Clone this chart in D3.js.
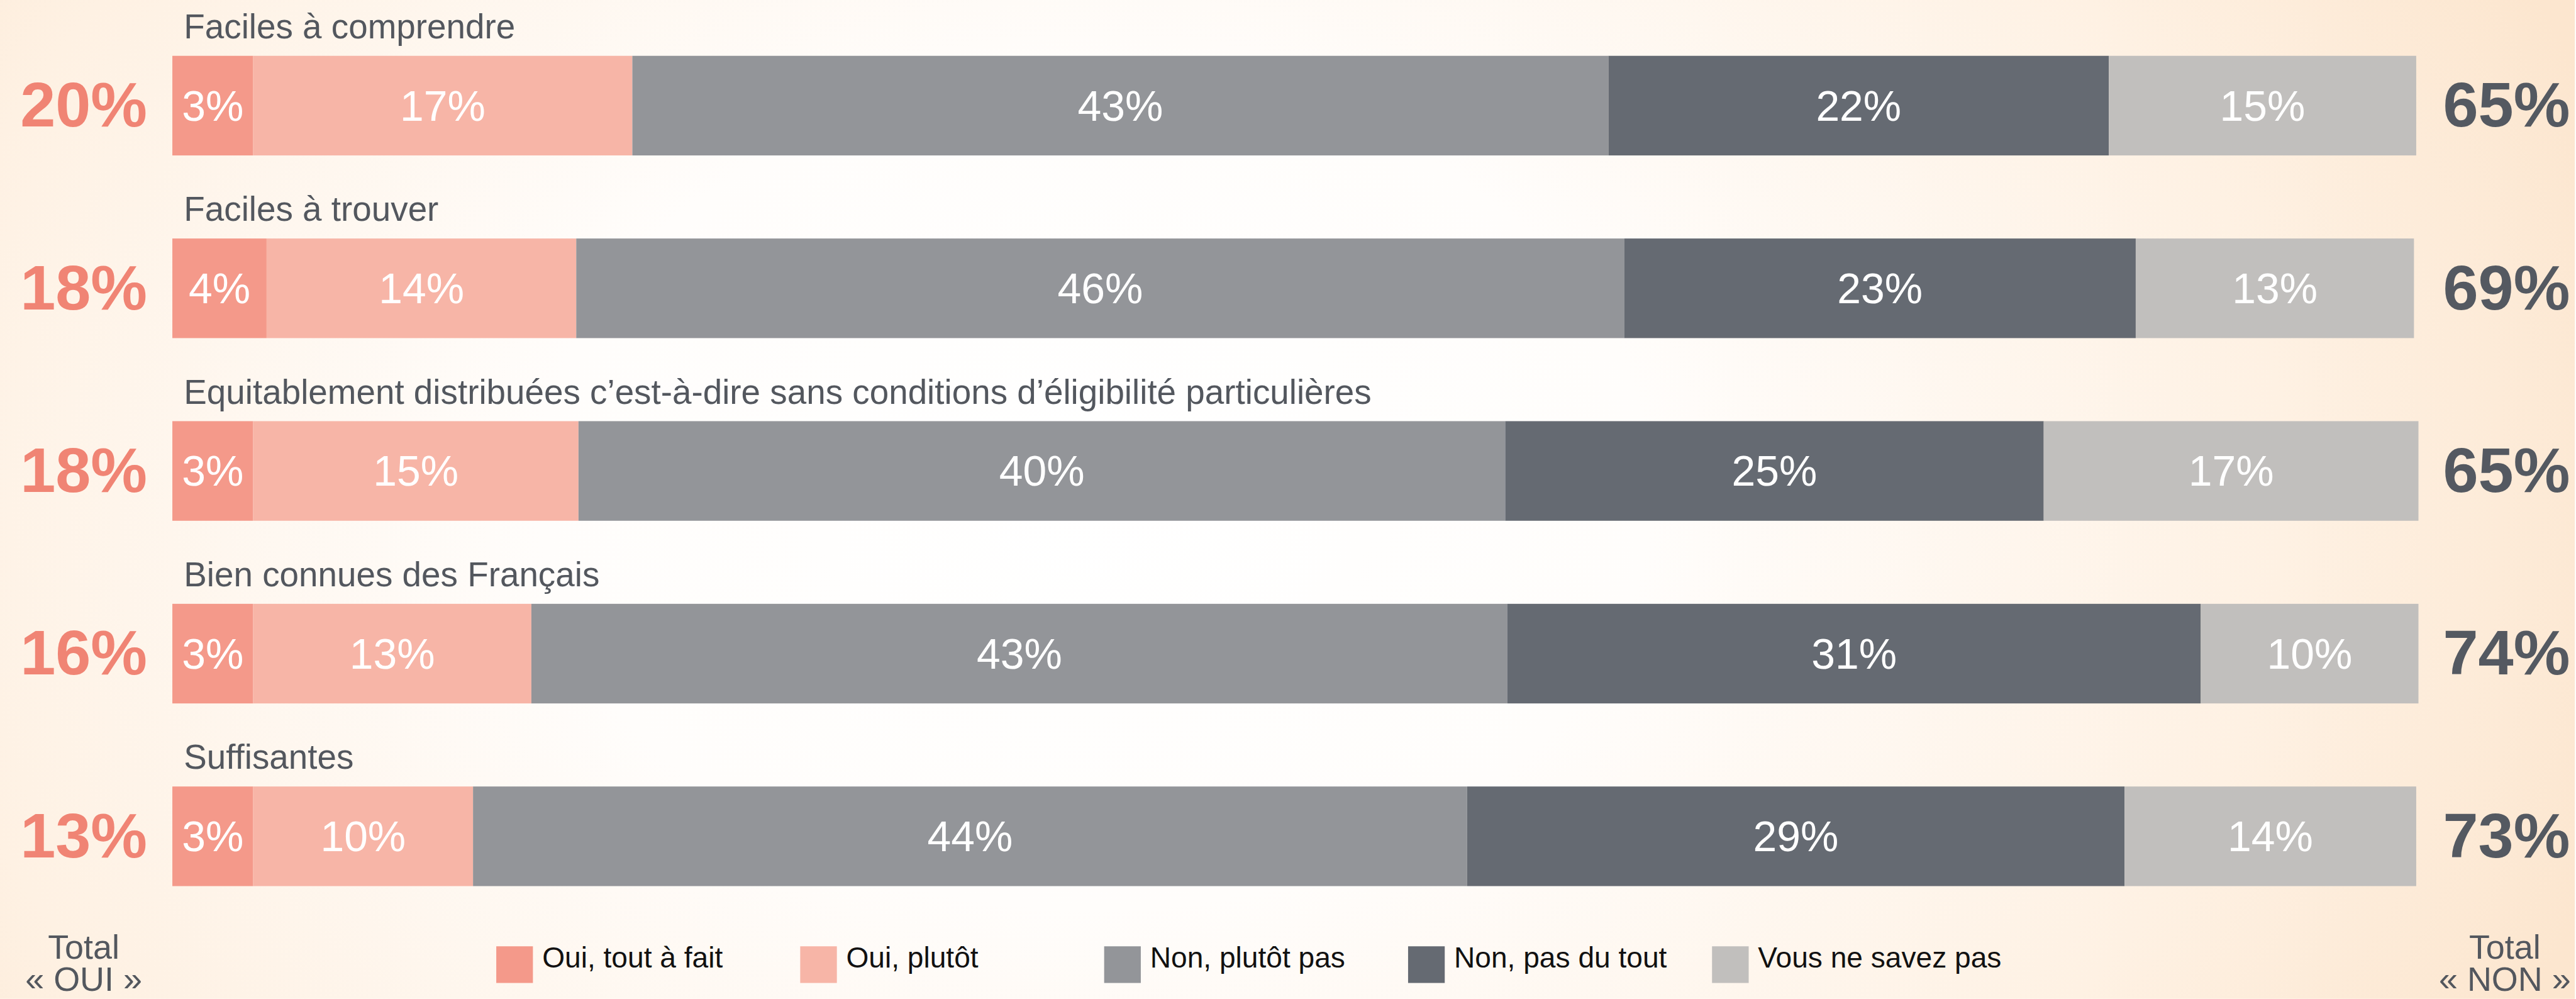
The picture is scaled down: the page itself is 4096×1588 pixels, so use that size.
<!DOCTYPE html>
<html>
<head>
<meta charset="utf-8">
<script src="https://d3js.org/d3.v7.min.js"></script>
<style>
  body { margin: 0; padding: 0; overflow: hidden; }
  svg { display: block; font-family: "Liberation Sans", Arial, sans-serif; }
</style>
</head>
<body>
<svg width="4096" height="1588"></svg>
<script>
// rows, top to bottom
var categories = [
  "Faciles à comprendre",
  "Faciles à trouver",
  "Equitablement distribuées c’est-à-dire sans conditions d’éligibilité particulières",
  "Bien connues des Français",
  "Suffisantes"
];

var keys = ["Oui, tout à fait", "Oui, plutôt", "Non, plutôt pas", "Non, pas du tout", "Vous ne savez pas"];
var colors = ["#f4998a", "#f7b5a7", "#939599", "#656a72", "#c1bfbd"];

// width of each segment as drawn (share of bar)
var ouiToutAFait = [3.6, 4.2, 3.6, 3.6, 3.6];
var ouiPlutot    = [16.9, 13.8, 14.5, 12.4, 9.8];
var nonPlutotPas = [43.5, 46.7, 41.3, 43.5, 44.3];
var nonPasDuTout = [22.3, 22.8, 24.0, 30.9, 29.3];
var nsppWidth    = [13.7, 12.4, 16.7, 9.7, 13.0];

// percentages printed inside the segments
var lblToutAFait = [3, 4, 3, 3, 3];
var lblPlutot    = [17, 14, 15, 13, 10];
var lblPlutotPas = [43, 46, 40, 43, 44];
var lblPasDuTout = [22, 23, 25, 31, 29];
var lblNspp      = [15, 13, 17, 10, 14];

var totalOui = [20, 18, 18, 16, 13];
var totalNon = [65, 69, 65, 74, 73];

var widths = [ouiToutAFait, ouiPlutot, nonPlutotPas, nonPasDuTout, nsppWidth];
var labels = [lblToutAFait, lblPlutot, lblPlutotPas, lblPasDuTout, lblNspp];

var table = categories.map(function(c, i) {
  var row = { cat: c, i: i };
  keys.forEach(function(k, j) { row[k] = widths[j][i]; });
  return row;
});

var svg = d3.select("svg");
var k = 0.87; // everything laid out in reference pixels, then scaled

var defs = svg.append("defs");
var grad = defs.append("radialGradient")
  .attr("id", "bg")
  .attr("gradientUnits", "userSpaceOnUse")
  .attr("cx", 2000).attr("cy", 900).attr("r", 2900)
  .attr("gradientTransform", "translate(2000,900) scale(1,0.75) translate(-2000,-900)");
grad.append("stop").attr("offset", 0).attr("stop-color", "#ffffff");
grad.append("stop").attr("offset", 0.35).attr("stop-color", "#fffdfb");
grad.append("stop").attr("offset", 0.75).attr("stop-color", "#fef1e3");
grad.append("stop").attr("offset", 1).attr("stop-color", "#fce6cf");

var g = svg.append("g").attr("transform", "scale(" + k + ")");

g.append("rect")
  .attr("width", 4706).attr("height", 1825)
  .attr("fill", "url(#bg)");

var x = d3.scaleLinear().domain([0, 100]).range([315, 4416]);
var y = d3.scaleBand().domain(categories).range([102, 1619]).paddingInner(0.4547).paddingOuter(0);
var color = d3.scaleOrdinal().domain(keys).range(colors);

var series = d3.stack().keys(keys)(table);

var layer = g.append("g").attr("class", "bars")
  .selectAll("g")
  .data(series)
  .enter().append("g")
  .attr("fill", function(d) { return color(d.key); });

layer.selectAll("rect")
  .data(function(d) { return d; })
  .enter().append("rect")
  .attr("x", function(d) { return x(d[0]); })
  .attr("y", function(d) { return y(d.data.cat); })
  .attr("width", function(d) { return x(d[1]) - x(d[0]); })
  .attr("height", y.bandwidth());

// white percentages in the segments
layer.selectAll("text")
  .data(function(d, j) { return d.map(function(s) { s.lbl = labels[j][s.data.i]; return s; }); })
  .enter().append("text")
  .attr("x", function(d) { return (x(d[0]) + x(d[1])) / 2; })
  .attr("y", function(d) { return y(d.data.cat) + y.bandwidth() / 2; })
  .attr("dy", "0.35em")
  .attr("text-anchor", "middle")
  .attr("fill", "#ffffff")
  .attr("font-size", 78)
  .text(function(d) { return d.lbl + "%"; });

// row titles
g.append("g").selectAll("text")
  .data(categories)
  .enter().append("text")
  .attr("x", 336)
  .attr("y", function(d) { return y(d) - 32; })
  .attr("fill", "#53575e")
  .attr("font-size", 63)
  .text(function(d) { return d; });

// totals left and right
g.append("g").selectAll("text")
  .data(totalOui)
  .enter().append("text")
  .attr("x", 153)
  .attr("y", function(d, i) { return y(categories[i]) + y.bandwidth() / 2; })
  .attr("dy", "0.33em")
  .attr("text-anchor", "middle")
  .attr("font-weight", "bold")
  .attr("font-size", 116)
  .attr("fill", "#f08474")
  .text(function(d) { return d + "%"; });

g.append("g").selectAll("text")
  .data(totalNon)
  .enter().append("text")
  .attr("x", 4581)
  .attr("y", function(d, i) { return y(categories[i]) + y.bandwidth() / 2; })
  .attr("dy", "0.33em")
  .attr("text-anchor", "middle")
  .attr("font-weight", "bold")
  .attr("font-size", 116)
  .attr("fill", "#545961")
  .text(function(d) { return d + "%"; });

// "Total" captions under the totals
function caption(cx, word) {
  var t = g.append("text")
    .attr("text-anchor", "middle")
    .attr("fill", "#53575e")
    .attr("font-size", 62);
  t.append("tspan").attr("x", cx).attr("y", 1752).text("Total");
  t.append("tspan").attr("x", cx).attr("y", 1810).text("«\u00a0" + word + "\u00a0»");
}
caption(153, "OUI");
caption(4578, "NON");

// legend
var legend = g.append("g").selectAll("g")
  .data(keys)
  .enter().append("g")
  .attr("transform", function(d, i) { return "translate(" + (907 + i * 555.5) + ",1729)"; });

legend.append("rect")
  .attr("width", 67).attr("height", 67)
  .attr("fill", function(d) { return color(d); });

legend.append("text")
  .attr("x", 84)
  .attr("y", 39)
  .attr("font-size", 53)
  .attr("fill", "#111111")
  .text(function(d) { return d; });
</script>
</body>
</html>
